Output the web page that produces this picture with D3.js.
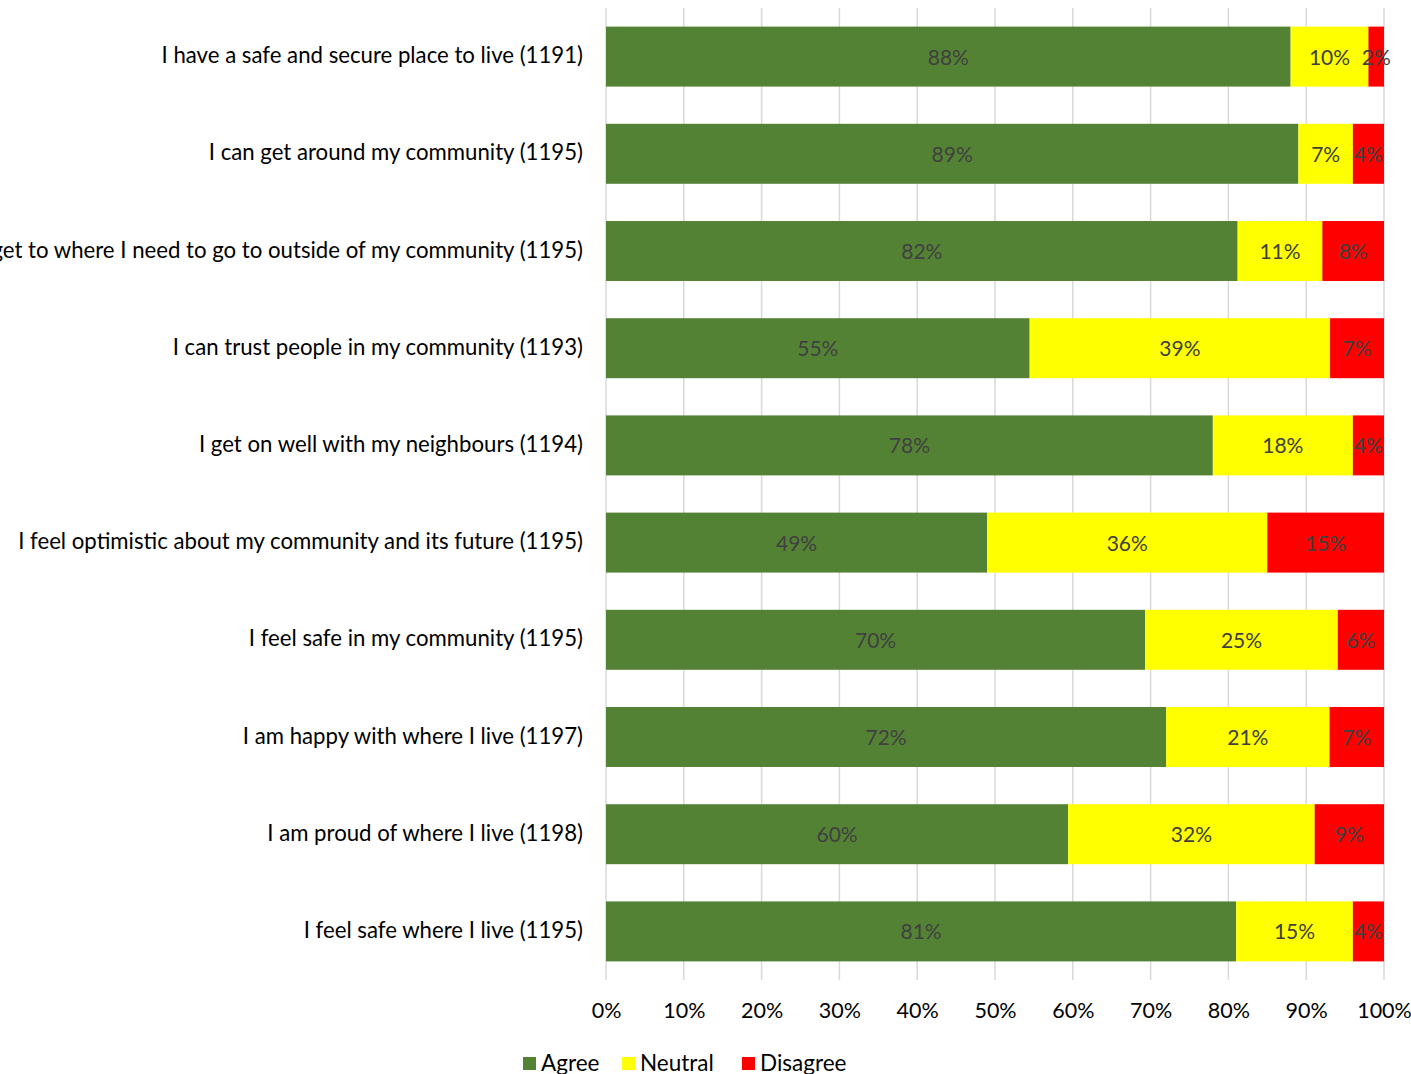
<!DOCTYPE html>
<html>
<head>
<meta charset="utf-8">
<script src="https://cdn.jsdelivr.net/npm/d3@7"></script>
<style>
  html, body { margin: 0; padding: 0; background: #fff; }
  svg { display: block; font-family: Lato, "Open Sans", sans-serif; }
</style>
</head>
<body>
<svg id="chart" width="1411" height="1074"></svg>
<script>
// Survey statements, top to bottom
const categories = [
  "I have a safe and secure place to live (1191)",
  "I can get around my community (1195)",
  "I can get to where I need to go to outside of my community (1195)",
  "I can trust people in my community (1193)",
  "I get on well with my neighbours (1194)",
  "I feel optimistic about my community and its future (1195)",
  "I feel safe in my community (1195)",
  "I am happy with where I live (1197)",
  "I am proud of where I live (1198)",
  "I feel safe where I live (1195)"
];

// Response shares (%) per statement
const agree    = [88, 89, 82, 55, 78, 49, 70, 72, 60, 81];
const neutral  = [10,  7, 11, 39, 18, 36, 25, 21, 32, 15];
const disagree = [ 2,  4,  8,  7,  4, 15,  6,  7,  9,  4];

const seriesNames = ["Agree", "Neutral", "Disagree"];
const seriesColors = ["#548235", "#ffff00", "#ff0000"];
const tickValues = [0, 0.1, 0.2, 0.3, 0.4, 0.5, 0.6, 0.7, 0.8, 0.9, 1];

const rows = categories.map((c, i) => ({
  category: c,
  Agree: agree[i],
  Neutral: neutral[i],
  Disagree: disagree[i]
}));

const svg = d3.select("#chart");
const margin = { left: 606, right: 27, top: 8, bottom: 94 };
const W = 1411, H = 1074;

const x = d3.scaleLinear().domain([0, 1]).range([margin.left, W - margin.right]);
const y = d3.scaleBand()
  .domain(categories)
  .range([margin.top, H - margin.bottom])
  .paddingInner(0.383)
  .paddingOuter(0.1915);

const color = d3.scaleOrdinal().domain(seriesNames).range(seriesColors);

// 100% stacked layout
const stacked = d3.stack()
  .keys(seriesNames)
  .offset(d3.stackOffsetExpand)(rows);

// Vertical gridlines
svg.append("g")
  .selectAll("line")
  .data(tickValues)
  .join("line")
  .attr("x1", d => x(d)).attr("x2", d => x(d))
  .attr("y1", margin.top).attr("y2", H - margin.bottom)
  .attr("stroke", "#d9d9d9")
  .attr("stroke-width", 1.5);

// Bars
const layers = svg.append("g")
  .selectAll("g")
  .data(stacked)
  .join("g")
  .attr("fill", d => color(d.key));

layers.selectAll("rect")
  .data(d => d)
  .join("rect")
  .attr("x", d => x(d[0]))
  .attr("width", d => x(d[1]) - x(d[0]))
  .attr("y", d => y(d.data.category))
  .attr("height", y.bandwidth());

// Data labels centred in each segment
const labels = svg.append("g");
stacked.forEach(layer => {
  labels.selectAll(null)
    .data(layer)
    .join("text")
    .attr("x", d => (x(d[0]) + x(d[1])) / 2)
    .attr("y", d => y(d.data.category) + y.bandwidth() / 2)
    .attr("dy", "0.38em")
    .attr("text-anchor", "middle")
    .attr("font-size", 21)
    .attr("fill", "#404040")
    .text(d => d.data[layer.key] + "%");
});

// Category axis labels
svg.append("g")
  .selectAll("text")
  .data(categories)
  .join("text")
  .attr("x", margin.left - 23)
  .attr("y", d => y(d) + y.bandwidth() / 2)
  .attr("dy", "0.3em")
  .attr("text-anchor", "end")
  .attr("font-size", 22.2)
  .attr("fill", "#000")
  .text(d => d);

// Percentage axis
const xAxis = d3.axisBottom(x)
  .tickValues(tickValues)
  .tickFormat(d3.format(".0%"))
  .tickSize(0)
  .tickPadding(0);

const axisG = svg.append("g")
  .attr("transform", `translate(0,${H - margin.bottom})`)
  .call(xAxis);
axisG.select(".domain").remove();
axisG.selectAll("text")
  .attr("y", 23)
  .attr("font-size", 21.5)
  .attr("font-family", "Lato, 'Open Sans', sans-serif")
  .attr("fill", "#000");

// Legend
const legendItems = [
  { name: "Agree", x: 523 },
  { name: "Neutral", x: 622 },
  { name: "Disagree", x: 742 }
];
const legend = svg.append("g")
  .selectAll("g")
  .data(legendItems)
  .join("g")
  .attr("transform", d => `translate(${d.x},1057)`);
legend.append("rect")
  .attr("width", 13).attr("height", 13)
  .attr("fill", d => color(d.name));
legend.append("text")
  .attr("x", 18)
  .attr("y", 6)
  .attr("dy", "0.36em")
  .attr("font-size", 22.5)
  .attr("fill", "#000")
  .text(d => d.name);
</script>
</body>
</html>
